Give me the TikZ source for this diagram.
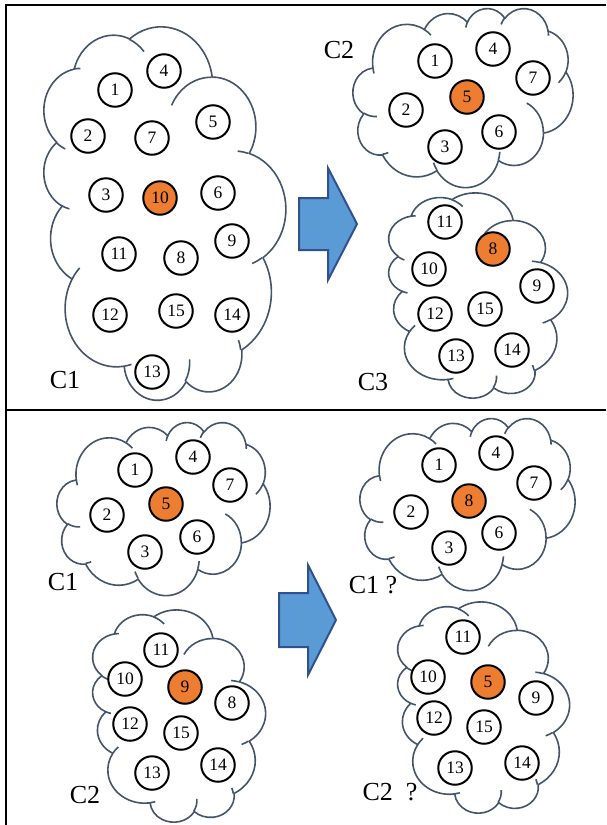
\documentclass[tikz,border=0pt]{standalone}
\usepackage{fontspec}
\setmainfont{Liberation Serif}
\definecolor{cloudcol}{HTML}{44546A}
\definecolor{orangefill}{HTML}{ED7D31}
\definecolor{arrowfill}{HTML}{5B9BD5}
\definecolor{arrowline}{HTML}{2F528F}
% elliptic arc with DrawingML-style (visual) angles
\newcommand\carc[4]{arc[x radius=#1, y radius=#2, start angle={atan2((#1)*sin(#3),(#2)*cos(#3))}, delta angle={mod(atan2((#1)*sin((#3)+(#4)),(#2)*cos((#3)+(#4)))-atan2((#1)*sin(#3),(#2)*cos(#3))+720,360)}]}
\newcommand\cloudpath{(3.9,14.37)
 \carc{6.753}{9.19}{-190.4875}{123.7805}
 \carc{5.333}{7.267}{-144.1024}{89.9452}
 \carc{4.365}{5.945}{-145.8079}{99.723}
 \carc{4.857}{6.595}{-130.9861}{117.2417}
 \carc{5.333}{7.273}{-78.7089}{109.0269}
 \carc{6.775}{9.22}{-46.2673}{130.269}
 \carc{5.785}{7.867}{0.625}{114.0333}
 \carc{6.752}{9.215}{22.4516}{115.1726}
 \carc{7.72}{10.543}{66.2426}{75.711}
 \carc{4.36}{5.918}{-274.9421}{146.7356}
 \carc{4.345}{5.945}{-246.8285}{152.5189} -- cycle}
\newcommand\cloudinner{(4.693,26.177) \carc{4.345}{5.945}{86.742}{26.4295}
 (6.928,34.899) \carc{4.36}{5.918}{73.6105}{11.4475}
 (16.478,39.09) \carc{6.752}{9.215}{137.6242}{14.0811}
 (28.827,34.751) \carc{6.752}{9.215}{6.4533}{15.9984}
 (34.129,22.954) \carc{5.785}{7.867}{-70.2924}{70.9174}
 (41.798,15.354) \carc{5.333}{7.273}{30.318}{27.7515}
 (38.324,5.426) \carc{4.857}{6.595}{-13.7443}{14.8589}
 (29.078,3.952) \carc{4.857}{6.595}{-149.1815}{18.1954}
 (22.141,4.72) \carc{4.365}{5.945}{-163.4943}{17.6864}
 (14,5.192) \carc{6.753}{9.19}{-66.707}{12.3194}
 (4.127,15.789) \carc{6.753}{9.19}{157.6544}{11.8582}}
\tikzset{
  cloudstd/.style n args={4}{shift={(#1pt,-#2pt)}, xscale=#3/43.2, yscale=-#4/43.2, x=1pt, y=1pt},
  cloudrot/.style n args={4}{shift={(#1pt,-#2pt-#4pt)}, xscale=#3/43.2, yscale=#4/43.2, rotate=90, yscale=-1, x=1pt, y=1pt},
  cloudline/.style={draw=cloudcol, line width=1.6pt, line join=round},
  ball/.style={circle, draw=black, line width=2pt, fill=white, minimum size=33.5pt, inner sep=0pt, font=\fontsize{17.5}{17.5}\selectfont},
  hot/.style={ball, fill=orangefill},
  lbl/.style={inner sep=0pt, font=\fontsize{26}{26}\selectfont},
  frameline/.style={line width=2pt, black},
  bigarrow/.style={fill=arrowfill, draw=arrowline, line width=2pt, line join=miter}
}
\newcommand\drawcloud[1]{\begin{scope}[#1]
  \draw[cloudline, fill=white] \cloudpath;
  \draw[cloudline] \cloudinner;
\end{scope}}
\begin{document}
\begin{tikzpicture}[x=1pt, y=-1pt]
\useasboundingbox (0,0) rectangle (606,825);
\fill[white] (0,0) rectangle (606,825);
% frame
\draw[frameline] (6,5) -- (606,5);
\draw[frameline] (6,4) -- (6,825);
\draw[frameline] (6,410) -- (606,410);
% clouds
\drawcloud{cloudrot={43}{27}{242}{373}}
\drawcloud{cloudstd={353}{8}{220}{179}}
\drawcloud{cloudrot={388}{193}{179}{205}}
\drawcloud{cloudstd={57}{422}{213}{173}}
\drawcloud{cloudrot={92}{610}{173}{212}}
\drawcloud{cloudstd={360}{418}{215}{172}}
\drawcloud{cloudrot={397}{602}{172}{211}}
% arrows
\draw[bigarrow] (299,198) -- (328,198) -- (328,168) -- (357,224) -- (328,280) -- (328,250) -- (299,250) -- cycle;
\draw[bigarrow] (279,593) -- (308,593) -- (308,565) -- (336,620) -- (308,675) -- (308,647) -- (279,647) -- cycle;
% top-left C1
\node[ball] (a1) at (115,90) {1};
\node[ball] (a4) at (164,71) {4};
\node[ball] (a2) at (88,136) {2};
\node[ball] (a7) at (152,138) {7};
\node[ball] (a5) at (213,122) {5};
\node[ball] (a3) at (106,195) {3};
\node[hot]  (a10) at (160,198) {10};
\node[ball] (a6) at (218,193) {6};
\node[ball] (a11) at (119,254) {11};
\node[ball] (a8) at (181,258) {8};
\node[ball] (a9) at (232,241) {9};
\node[ball] (a12) at (110,315) {12};
\node[ball] (a15) at (176,311) {15};
\node[ball] (a14) at (232,315) {14};
\node[ball] (a13) at (152,372) {13};
\node[lbl] (la) at (65,380) {C1};
% top-right C2
\node[lbl] (lb) at (339,50) {C2};
\node[ball] (b1) at (435,61) {1};
\node[ball] (b4) at (493,49) {4};
\node[ball] (b7) at (533,78) {7};
\node[hot]  (b5) at (467,97) {5};
\node[ball] (b2) at (406,110) {2};
\node[ball] (b6) at (499,132) {6};
\node[ball] (b3) at (445,147) {3};
% top-right C3
\node[ball] (c11) at (445,222) {11};
\node[hot]  (c8) at (493,249) {8};
\node[ball] (c10) at (429,269) {10};
\node[ball] (c9) at (537,286) {9};
\node[ball] (c15) at (485,309) {15};
\node[ball] (c12) at (435,314) {12};
\node[ball] (c14) at (512,350) {14};
\node[ball] (c13) at (456,356) {13};
\node[lbl] (lc) at (373,382) {C3};
% bottom-left C1
\node[ball] (d1) at (135,470) {1};
\node[ball] (d4) at (193,457) {4};
\node[ball] (d7) at (230,485) {7};
\node[hot]  (d5) at (166,504) {5};
\node[ball] (d2) at (107,515) {2};
\node[ball] (d6) at (197,537) {6};
\node[ball] (d3) at (145,552) {3};
\node[lbl] (ld) at (63,582) {C1};
% bottom-left C2
\node[ball] (e11) at (161,650) {11};
\node[ball] (e10) at (125,679) {10};
\node[hot]  (e9) at (185,687) {9};
\node[ball] (e8) at (232,703) {8};
\node[ball] (e12) at (130,724) {12};
\node[ball] (e15) at (181,733) {15};
\node[ball] (e14) at (218,765) {14};
\node[ball] (e13) at (152,773) {13};
\node[lbl] (le) at (85,795) {C2};
% bottom-right C1 ?
\node[ball] (f1) at (439,465) {1};
\node[ball] (f4) at (496,453) {4};
\node[ball] (f7) at (534,483) {7};
\node[hot]  (f8) at (469,501) {8};
\node[ball] (f2) at (411,512) {2};
\node[ball] (f6) at (499,533) {6};
\node[ball] (f3) at (449,548) {3};
\node[lbl] (lf) at (373,585) {C1 ?};
% bottom-right C2 ?
\node[ball] (g11) at (463,637) {11};
\node[ball] (g10) at (428,677) {10};
\node[hot]  (g5) at (488,682) {5};
\node[ball] (g9) at (536,698) {9};
\node[ball] (g12) at (434,718) {12};
\node[ball] (g15) at (484,727) {15};
\node[ball] (g14) at (522,763) {14};
\node[ball] (g13) at (455,768) {13};
\node[lbl] (lg) at (390,792) {C2~~?};
\end{tikzpicture}
\end{document}
